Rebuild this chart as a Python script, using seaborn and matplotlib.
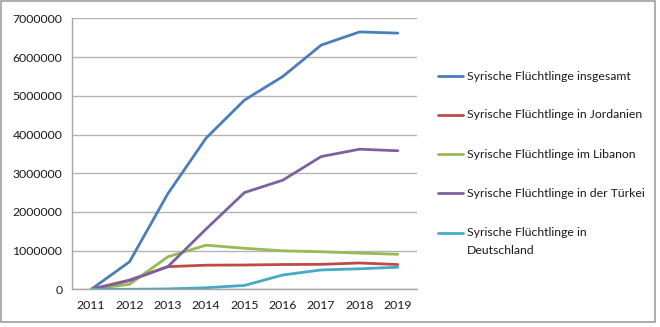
import matplotlib
matplotlib.use("Agg")
import matplotlib.pyplot as plt
import seaborn as sns
import pandas as pd
import numpy as np
from matplotlib.patches import Rectangle
from matplotlib.lines import Line2D

years = [2011, 2012, 2013, 2014, 2015, 2016, 2017, 2018, 2019]
total = [0, 710000, 2470000, 3910000, 4890000, 5500000, 6310000, 6650000, 6620000]
jordan = [0, 238000, 585000, 623000, 628000, 640000, 645000, 680000, 640000]
lebanon = [0, 130000, 840000, 1140000, 1060000, 995000, 970000, 935000, 905000]
turkey = [0, 225000, 585000, 1560000, 2500000, 2820000, 3430000, 3620000, 3580000]
germany = [0, 0, 10000, 40000, 100000, 370000, 500000, 530000, 570000]

labels = ["Syrische Flüchtlinge insgesamt",
          "Syrische Flüchtlinge in Jordanien",
          "Syrische Flüchtlinge im Libanon",
          "Syrische Flüchtlinge in der Türkei",
          "Syrische Flüchtlinge in\nDeutschland"]
series = [total, jordan, lebanon, turkey, germany]
colors = ["#4A7EBB", "#BE4B48", "#98B954", "#7D60A0", "#46AAC5"]

df = pd.concat([pd.DataFrame({"Jahr": years, "Wert": s, "Serie": l})
                for s, l in zip(series, labels)], ignore_index=True)

sns.set_style("white")
plt.rcParams['font.family'] = ['Lato', 'DejaVu Sans']

W, H = 660, 327
fig = plt.figure(figsize=(6.6, 3.27), dpi=100)
ax = fig.add_axes([72/W, 1 - 289.3/H, (417 - 72)/W, (289.3 - 18.4)/H])

sns.lineplot(data=df, x="Jahr", y="Wert", hue="Serie", palette=dict(zip(labels, colors)),
             hue_order=labels, linewidth=2.0, ax=ax, legend=False)

ax.set_xlim(2010.5, 2019.5)
ax.set_ylim(0, 7000000)
ax.set_yticks(np.arange(0, 7000001, 1000000))
ax.set_yticklabels([str(v) for v in range(0, 7000001, 1000000)])
ax.set_xticks(years)
ax.set_xticklabels([str(y) for y in years])
ax.set_xticks(np.arange(2010.5, 2020, 1), minor=True)
ax.tick_params(axis="x", which="major", length=0, pad=8, labelsize=8.8, colors="#1a1a1a")
ax.tick_params(axis="x", which="minor", length=4, width=1, color="#A6A6A6", direction="out")
ax.tick_params(axis="y", which="major", length=4, width=1, color="#A6A6A6", labelsize=8.8,
               labelcolor="#1a1a1a", pad=3)
ax.set_xlabel("")
ax.set_ylabel("")
ax.grid(axis="y", color="#B3B3B3", linewidth=1)
ax.set_axisbelow(True)
for side in ["top", "right"]:
    ax.spines[side].set_visible(False)
for side in ["left", "bottom"]:
    ax.spines[side].set_color("#A6A6A6")
    ax.spines[side].set_linewidth(1)

# legend drawn manually to match positions
legend_y = [76, 115, 154, 193, 233]
for lab, col, yy in zip(labels, colors, legend_y):
    fy = 1 - yy / H
    fig.add_artist(Line2D([438/W, 463/W], [fy, fy], transform=fig.transFigure,
                          color=col, lw=2))
    first, *rest = lab.split("\n")
    fig.text(467/W, fy, first, ha="left", va="center", fontsize=8.8, color="#1a1a1a")
    for i, r in enumerate(rest):
        fig.text(467/W, 1 - (yy + 17*(i + 1))/H, r, ha="left", va="center",
                 fontsize=8.8, color="#1a1a1a")

fig.patches.append(Rectangle((1/W, 1 - 322/H), 654/W, 321/H, transform=fig.transFigure,
                             fill=False, edgecolor="#A0A0A0", linewidth=1.2))

fig.savefig("out.png", dpi=100)
